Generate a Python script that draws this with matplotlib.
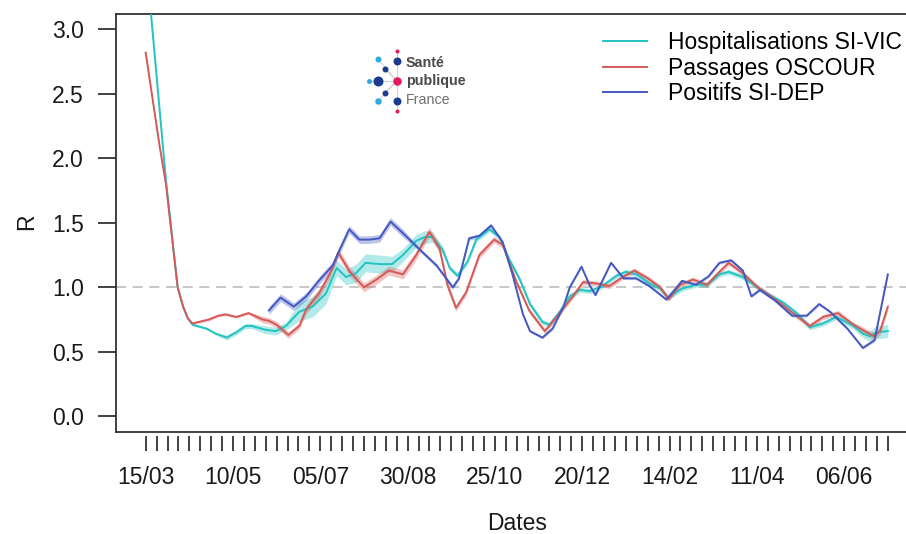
import matplotlib
matplotlib.use('Agg')
import matplotlib.pyplot as plt
from matplotlib import font_manager
import pandas as pd

start = pd.Timestamp('2020-03-15')

# days since 15/03/2020, R value, half width of the confidence band
hosp_days = [0, 13, 20.5, 24, 27, 30, 39, 45, 52, 58, 64, 68, 77, 83.5, 90, 98.5, 107, 115.5,
             122.5, 128.5, 135, 141, 150, 158, 165, 173.5, 179, 184, 190.5, 195, 200, 206.5,
             212, 220.5, 227, 233, 240, 246.5, 254.5, 259, 265.5, 272, 278.5, 285, 293, 302,
             308, 315, 323, 330, 335, 344, 353, 360, 368, 374, 383, 392.5, 400, 409, 417.5,
             426, 434.5, 443, 454, 460, 464.5, 468.5, 476]
hosp_r = [3.58, 1.83, 1.0, 0.85, 0.76, 0.71, 0.68, 0.64, 0.61, 0.65, 0.70, 0.70, 0.67, 0.66,
          0.70, 0.81, 0.85, 0.95, 1.15, 1.08, 1.11, 1.19, 1.18, 1.18, 1.25, 1.36, 1.39, 1.39,
          1.29, 1.15, 1.09, 1.20, 1.37, 1.45, 1.39, 1.22, 1.06, 0.87, 0.73, 0.71, 0.81, 0.93,
          0.98, 0.97, 1.01, 1.09, 1.12, 1.10, 1.03, 0.99, 0.92, 0.99, 1.02, 1.02, 1.10, 1.12,
          1.08, 1.00, 0.94, 0.88, 0.80, 0.69, 0.72, 0.77, 0.70, 0.64, 0.62, 0.65, 0.66]
hosp_hw = ([0.01] * 8 + [0.02] * 4 + [0.03] * 3 + [0.07, 0.08, 0.08]
           + [0.06, 0.06, 0.07, 0.07, 0.07, 0.06] + [0.05, 0.05, 0.05, 0.04, 0.03]
           + [0.02] * 35 + [0.025, 0.03, 0.04, 0.05, 0.05])

osc_days = [0, 9, 13, 20.5, 24, 27, 30, 40.5, 46.5, 51.5, 58, 66, 75, 79, 84, 91.5, 98.5, 103,
            111, 118, 123.5, 131, 140, 148, 156, 165, 173.5, 182, 188.5, 193.5, 199, 205.5,
            214, 223.5, 229, 237.5, 246, 256, 265.5, 274, 280.5, 289, 297.5, 306, 313.5, 322,
            330, 335.5, 343, 351, 360, 368, 374, 383, 392.5, 404.5, 415, 426, 434.5, 444, 454,
            467, 471, 476]
osc_r = [2.82, 2.09, 1.80, 1.0, 0.85, 0.76, 0.72, 0.75, 0.78, 0.79, 0.77, 0.80, 0.75, 0.74,
         0.71, 0.63, 0.70, 0.83, 0.95, 1.10, 1.27, 1.12, 1.00, 1.06, 1.13, 1.10, 1.25, 1.43,
         1.30, 1.02, 0.84, 0.96, 1.25, 1.37, 1.33, 1.05, 0.82, 0.66, 0.80, 0.93, 1.04, 1.03,
         1.01, 1.08, 1.13, 1.07, 1.00, 0.91, 1.02, 1.06, 1.02, 1.12, 1.19, 1.11, 1.00, 0.90,
         0.80, 0.70, 0.77, 0.80, 0.71, 0.62, 0.66, 0.85]
osc_hw = [0.01] * 12 + [0.025] * 5 + [0.035] * 13 + [0.025] * 5 + [0.02] * 26 + [0.03] * 3

dep_days = [79, 86.5, 95, 103, 111, 120, 124, 130.5, 137, 143.5, 150, 157, 165, 176, 186.5,
            197, 201, 207.5, 214, 221.5, 229, 235.5, 242, 246.5, 254.5, 261, 268, 272, 279.5,
            285, 288.5, 298.5, 306.5, 314.5, 323, 334, 344, 353, 361, 368, 375.5, 383, 388.5,
            394, 403.5, 414.5, 424, 432, 439, 450, 460, 467.5, 476]
dep_r = [0.82, 0.92, 0.85, 0.93, 1.05, 1.17, 1.28, 1.45, 1.37, 1.37, 1.38, 1.51, 1.42, 1.29,
         1.17, 1.00, 1.07, 1.38, 1.40, 1.48, 1.35, 1.09, 0.79, 0.66, 0.61, 0.68, 0.85, 1.00,
         1.16, 1.01, 0.94, 1.19, 1.07, 1.07, 1.01, 0.905, 1.05, 1.02, 1.085, 1.19, 1.21, 1.13,
         0.93, 0.98, 0.90, 0.78, 0.78, 0.87, 0.81, 0.68, 0.53, 0.59, 1.10]
dep_hw = [0.03] * 13 + [0.015] * 7 + [0.01] * 33

labels = ['Hospitalisations SI-VIC', 'Passages OSCOUR', 'Positifs SI-DEP']
colors = ['#22c4c1', '#d45a58', '#4458c2']

plt.rcParams['font.family'] = ['Liberation Sans', 'DejaVu Sans']
fs = 16.5

fig = plt.figure(figsize=(9.06, 5.34), dpi=100)
ax = fig.add_axes([116 / 906, 1 - 431.7 / 534, (917.5 - 116) / 906, (431.7 - 14) / 534])


def to_dates(days):
    return start + pd.to_timedelta(days, unit='D')


ax.axhline(1.0, color='#bdbdbd', lw=1.2, dashes=(6, 4), zorder=1)

series = [(hosp_days, hosp_r, hosp_hw), (osc_days, osc_r, osc_hw), (dep_days, dep_r, dep_hw)]
handles = []
for (d, r, hw), c, lab in zip(series, colors, labels):
    x = to_dates(d)
    lo = [v - h for v, h in zip(r, hw)]
    hi = [v + h for v, h in zip(r, hw)]
    ax.fill_between(x, lo, hi, color=c, alpha=0.35, lw=0, zorder=2)
    ln, = ax.plot(x, r, color=c, lw=1.4, label=lab, zorder=3, solid_joinstyle='round')
    handles.append(ln)

ax.set_xlim(start - pd.Timedelta(days=19.04), start + pd.Timedelta(days=495.04))
ax.set_ylim(-0.12, 3.12)

week_ticks = pd.date_range(start, periods=69, freq='7D')
label_ticks = week_ticks[::8]
ax.set_xticks(week_ticks, minor=True)
ax.set_xticks(label_ticks)
ax.set_xticklabels([t.strftime('%d/%m') for t in label_ticks])
yt = [0.0, 0.5, 1.0, 1.5, 2.0, 2.5, 3.0]
ax.set_yticks(yt)
ax.set_yticklabels(['%.1f' % v for v in yt])

frame = '#333333'
ax.tick_params(axis='x', which='both', length=11, width=1.3, color=frame, pad=10.5,
               labelsize=fs, labelcolor='#1a1a1a')
ax.tick_params(axis='y', length=13, width=1.3, color=frame, pad=10,
               labelsize=fs, labelcolor='#1a1a1a')
for s in ax.spines.values():
    s.set_color(frame)
    s.set_linewidth(1.3)
ax.spines['bottom'].set_position(('outward', 3))
ax.spines['bottom'].set_visible(False)
ax.axhline(-0.12, color=frame, lw=1.3, clip_on=False, zorder=5)

ax.set_xlabel('Dates', fontsize=fs, va='center', color='#1a1a1a')
ax.xaxis.set_label_coords(0.5, -0.2186)
ax.set_ylabel('R', fontsize=fs, va='center', color='#1a1a1a')
ax.yaxis.set_label_coords(-0.112, 0.502)

ax.legend(handles=handles, loc='upper left', bbox_to_anchor=(603 / 906, 1 - 31 / 534),
          bbox_transform=fig.transFigure, frameon=False, fontsize=fs, handlelength=1.9,
          handletextpad=0.95, labelspacing=0.12, borderpad=0, borderaxespad=0)

# Santé publique France logo
names = {f.name for f in font_manager.fontManager.ttflist}
narrow = 'Liberation Sans Narrow' in names
logo_font = 'Liberation Sans Narrow' if narrow else 'Liberation Sans'
logo_size = 12 if narrow else 10.3

lg = fig.add_axes([355 / 906, 1 - 118 / 534, 120 / 906, 76 / 534])
lg.set_xlim(355, 475)
lg.set_ylim(118, 42)
lg.axis('off')
grey = '#d3d3d3'
lg.plot([396.7, 396.7], [50.7, 111], color=grey, lw=0.8, zorder=1)
for px, py in [(378.3, 81), (385, 69.3), (385, 92.7), (378.3, 59.3), (378.3, 101)]:
    lg.plot([396.7, px], [81, py], color=grey, lw=0.8, zorder=1)
lg.plot([369.3, 378.3], [81, 81], color=grey, lw=0.8, zorder=1)
navy, sky, pink = '#1d3b8f', '#2fa9e1', '#e5195e'
dots = [(396.7, 50.7, 4, pink), (378.3, 59.3, 6, sky), (396.7, 60.7, 8, navy),
        (385, 69.3, 6, navy), (369.3, 81, 5, sky), (378.3, 81, 10, navy),
        (396.7, 81, 8.5, pink), (385, 92.7, 6, navy), (378.3, 101, 6.5, sky),
        (396.7, 101, 8, navy), (396.7, 111, 4, pink)]
for px, py, dm, c in dots:
    lg.scatter([px], [py], s=(dm / 1.389) ** 2, color=c, lw=0, zorder=2)
lg.text(406, 63, 'Santé', family=logo_font, fontsize=logo_size, weight='bold',
        color='#4a4a4a', va='center', ha='left')
lg.text(406, 81.5, 'publique', family=logo_font, fontsize=logo_size, weight='bold',
        color='#4a4a4a', va='center', ha='left')
lg.text(406, 100.5, 'France', family=logo_font, fontsize=logo_size,
        color='#707070', va='center', ha='left')

fig.savefig('out.png', dpi=100)
